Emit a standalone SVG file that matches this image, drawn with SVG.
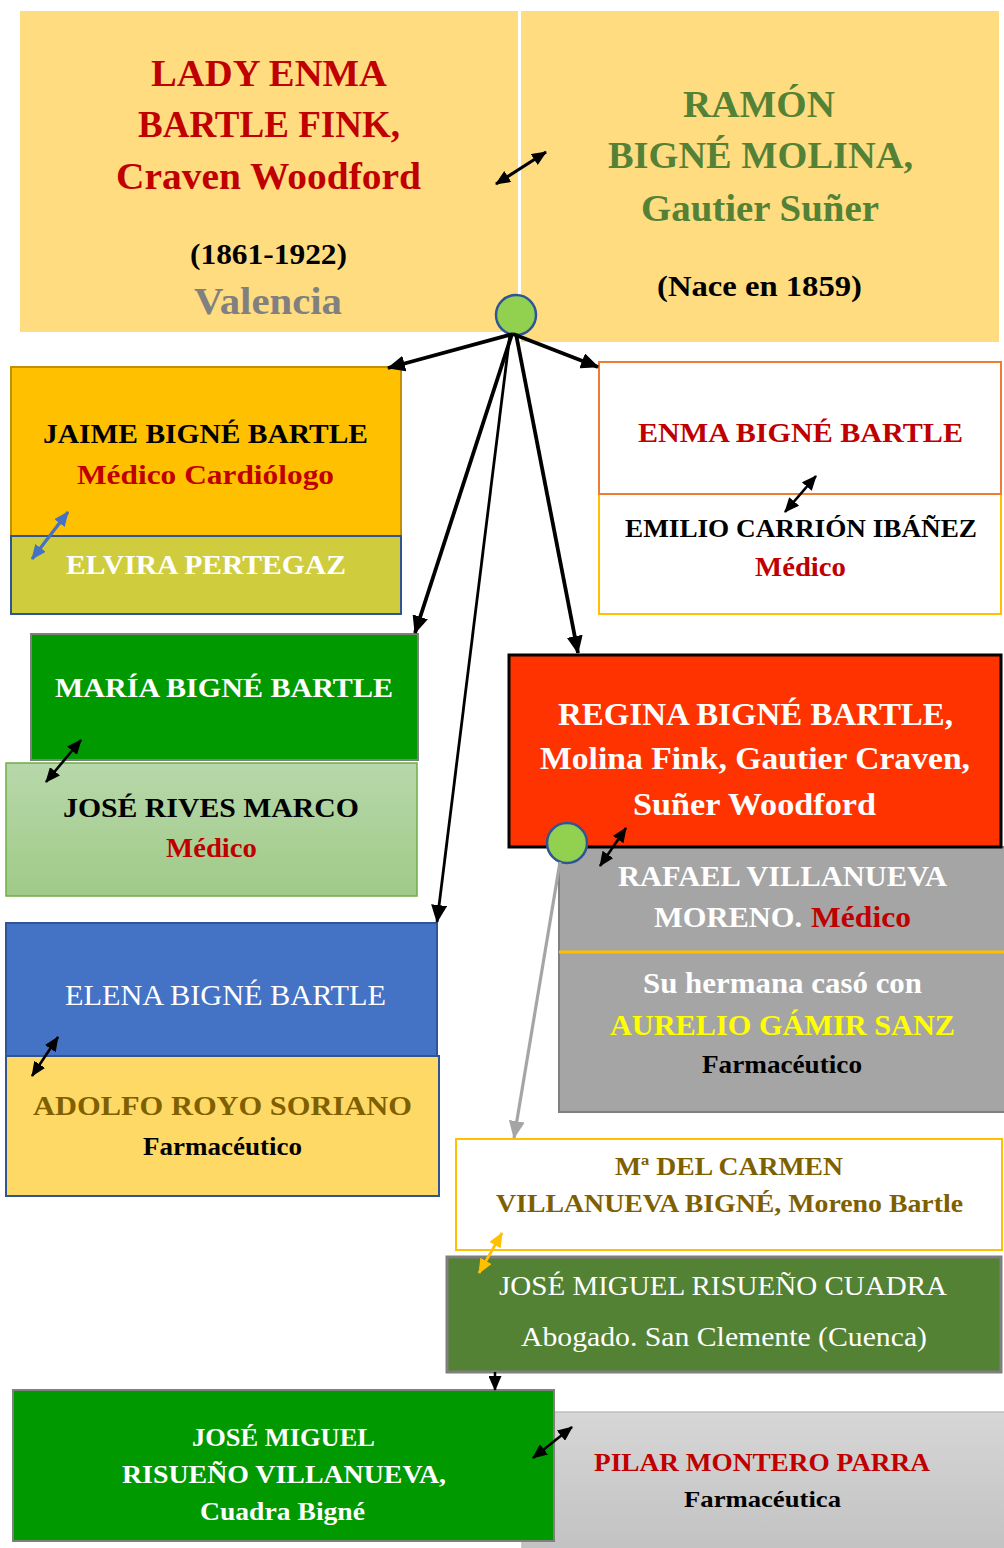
<svg xmlns="http://www.w3.org/2000/svg" width="1004" height="1548" viewBox="0 0 1004 1548">
<defs>
<style>
text{font-family:"Liberation Serif","DejaVu Serif",serif;font-weight:bold;text-anchor:middle}
.n{font-weight:normal}
.st{text-anchor:start}
.red{fill:#C00000}
.w{fill:#FFFFFF}
.k{fill:#000000}
.olive{fill:#7F6000}
.grn{fill:#538135}
.conn{fill:none;stroke:#000;stroke-width:3.8}
.pair{fill:none;stroke:#000;stroke-width:2.6}
</style>
<linearGradient id="gJose" x1="0" y1="0" x2="0" y2="1"><stop offset="0" stop-color="#B7D8AA"/><stop offset="1" stop-color="#A0CA88"/></linearGradient>
<linearGradient id="gPilar" x1="0" y1="0" x2="0" y2="1"><stop offset="0" stop-color="#D6D6D6"/><stop offset="1" stop-color="#C2C2C2"/></linearGradient>
<marker id="ah" markerUnits="userSpaceOnUse" markerWidth="18" markerHeight="16" refX="17" refY="8" orient="auto-start-reverse"><path d="M0,0 L18,8 L0,16 z" fill="#000"/></marker>
<marker id="ahg" markerUnits="userSpaceOnUse" markerWidth="18" markerHeight="16" refX="17" refY="8" orient="auto-start-reverse"><path d="M0,0 L18,8 L0,16 z" fill="#A5A5A5"/></marker>
<marker id="as" markerUnits="userSpaceOnUse" markerWidth="15" markerHeight="13" refX="14" refY="6.5" orient="auto-start-reverse"><path d="M0,0 L15,6.5 L0,13 z" fill="#000"/></marker>
<marker id="asb" markerUnits="userSpaceOnUse" markerWidth="15" markerHeight="13" refX="14" refY="6.5" orient="auto-start-reverse"><path d="M0,0 L15,6.5 L0,13 z" fill="#4472C4"/></marker>
<marker id="asy" markerUnits="userSpaceOnUse" markerWidth="15" markerHeight="13" refX="14" refY="6.5" orient="auto-start-reverse"><path d="M0,0 L15,6.5 L0,13 z" fill="#FFC000"/></marker>
</defs>
<rect x="0" y="0" width="1004" height="1548" fill="#FFFFFF"/>

<g id="lady-enma">
<rect x="20" y="11" width="498" height="321" fill="#FFDC80"/>
<text x="269" y="86" font-size="38" class="red" textLength="236" lengthAdjust="spacingAndGlyphs">LADY ENMA</text>
<text x="269" y="137" font-size="38" class="red" textLength="262" lengthAdjust="spacingAndGlyphs">BARTLE FINK,</text>
<text x="268.5" y="189" font-size="38" class="red" textLength="305" lengthAdjust="spacingAndGlyphs">Craven Woodford</text>
<text x="268.5" y="264" font-size="29" class="k" textLength="157" lengthAdjust="spacingAndGlyphs">(1861-1922)</text>
<text x="268" y="314" font-size="38" fill="#808080" textLength="148" lengthAdjust="spacingAndGlyphs">Valencia</text>
</g>

<g id="ramon">
<rect x="521" y="11" width="478" height="331" fill="#FFDC80"/>
<text x="759" y="117" font-size="38" class="grn" textLength="152" lengthAdjust="spacingAndGlyphs">RAMÓN</text>
<text x="760.5" y="168" font-size="38" class="grn" textLength="305" lengthAdjust="spacingAndGlyphs">BIGNÉ MOLINA,</text>
<text x="760" y="221" font-size="38" class="grn" textLength="238" lengthAdjust="spacingAndGlyphs">Gautier Suñer</text>
<text x="759.5" y="296" font-size="29" class="k" textLength="205" lengthAdjust="spacingAndGlyphs">(Nace en 1859)</text>
</g>

<g id="jaime">
<rect x="11" y="367" width="390" height="169" fill="#FFC000" stroke="#BF9000" stroke-width="2"/>
<text x="205.5" y="443" font-size="27" class="k" textLength="325" lengthAdjust="spacingAndGlyphs">JAIME BIGNÉ BARTLE</text>
<text x="205.5" y="484" font-size="28" class="red" textLength="257" lengthAdjust="spacingAndGlyphs">Médico Cardiólogo</text>
</g>
<g id="elvira">
<rect x="11" y="536" width="390" height="78" fill="#CFCD3D" stroke="#2F5597" stroke-width="2"/>
<text x="206" y="574" font-size="28" class="w" textLength="280" lengthAdjust="spacingAndGlyphs">ELVIRA PERTEGAZ</text>
</g>

<g id="emilio">
<rect x="599" y="494" width="402" height="120" fill="#FFFFFF" stroke="#FFC000" stroke-width="2"/>
<text x="801" y="537" font-size="26" class="k" textLength="352" lengthAdjust="spacingAndGlyphs">EMILIO CARRIÓN IBÁÑEZ</text>
<text x="800.5" y="576" font-size="27" class="red" textLength="91" lengthAdjust="spacingAndGlyphs">Médico</text>
</g>
<g id="enma">
<rect x="599" y="362" width="402" height="132" fill="#FFFFFF" stroke="#ED7D31" stroke-width="2"/>
<text x="800.5" y="442" font-size="28" class="red" textLength="325" lengthAdjust="spacingAndGlyphs">ENMA BIGNÉ BARTLE</text>
</g>

<g id="maria">
<rect x="31" y="634" width="387" height="126" fill="#009900" stroke="#7F7F7F" stroke-width="2"/>
<text x="224" y="697" font-size="28" class="w" textLength="338" lengthAdjust="spacingAndGlyphs">MARÍA BIGNÉ BARTLE</text>
</g>
<g id="jose-rives">
<rect x="6" y="763" width="411" height="133" fill="url(#gJose)" stroke="#70AD47" stroke-width="1.5"/>
<text x="211" y="817" font-size="28" class="k" textLength="296" lengthAdjust="spacingAndGlyphs">JOSÉ RIVES MARCO</text>
<text x="211.5" y="857" font-size="27" class="red" textLength="91" lengthAdjust="spacingAndGlyphs">Médico</text>
</g>

<g id="rafael">
<rect x="559" y="847" width="447" height="265" fill="#A5A5A5" stroke="#7F7F7F" stroke-width="2"/>
<line x1="559" y1="952" x2="1004" y2="952" stroke="#FFC000" stroke-width="3"/>
<text x="782.5" y="886" font-size="29" class="w" textLength="329" lengthAdjust="spacingAndGlyphs">RAFAEL VILLANUEVA</text>
<text x="654" y="927" font-size="29" class="w st" textLength="148" lengthAdjust="spacingAndGlyphs">MORENO.</text>
<text x="811" y="927" font-size="29" class="red st" textLength="100" lengthAdjust="spacingAndGlyphs">Médico</text>
<text x="782.5" y="993" font-size="29" class="w" textLength="279" lengthAdjust="spacingAndGlyphs">Su hermana casó con</text>
<text x="782.5" y="1035" font-size="29" fill="#FFFF00" textLength="345" lengthAdjust="spacingAndGlyphs">AURELIO GÁMIR SANZ</text>
<text x="782" y="1073" font-size="26" class="k" textLength="160" lengthAdjust="spacingAndGlyphs">Farmacéutico</text>
</g>
<g id="regina">
<rect x="509" y="655" width="492" height="192" fill="#FF3300" stroke="#000000" stroke-width="3"/>
<text x="755.5" y="725" font-size="32" class="w" textLength="395" lengthAdjust="spacingAndGlyphs">REGINA BIGNÉ BARTLE,</text>
<text x="755" y="769" font-size="32" class="w" textLength="430" lengthAdjust="spacingAndGlyphs">Molina Fink, Gautier Craven,</text>
<text x="754.5" y="815" font-size="32" class="w" textLength="243" lengthAdjust="spacingAndGlyphs">Suñer Woodford</text>
</g>

<g id="elena">
<rect x="6" y="923" width="431" height="133" fill="#4472C4" stroke="#2F5597" stroke-width="2"/>
<text x="225.5" y="1005" font-size="29" class="w n" textLength="321" lengthAdjust="spacingAndGlyphs">ELENA BIGNÉ BARTLE</text>
</g>
<g id="adolfo">
<rect x="6" y="1056" width="433" height="140" fill="#FFD966" stroke="#2F5597" stroke-width="2"/>
<text x="222.5" y="1115" font-size="28" class="olive" textLength="379" lengthAdjust="spacingAndGlyphs">ADOLFO ROYO SORIANO</text>
<text x="222.5" y="1155" font-size="26" class="k" textLength="159" lengthAdjust="spacingAndGlyphs">Farmacéutico</text>
</g>

<g id="carmen">
<rect x="456" y="1139" width="546" height="111" fill="#FFFFFF" stroke="#FFC000" stroke-width="2"/>
<text x="729" y="1175" font-size="25" class="olive" textLength="228" lengthAdjust="spacingAndGlyphs">Mª DEL CARMEN</text>
<text x="729.5" y="1212" font-size="25" class="olive" textLength="467" lengthAdjust="spacingAndGlyphs">VILLANUEVA BIGNÉ, Moreno Bartle</text>
</g>
<g id="risueno-cuadra">
<rect x="447" y="1257" width="554" height="115" fill="#548235" stroke="#7F7F7F" stroke-width="3"/>
<text x="723" y="1295" font-size="27" class="w n" textLength="448" lengthAdjust="spacingAndGlyphs">JOSÉ MIGUEL RISUEÑO CUADRA</text>
<text x="724" y="1346" font-size="27" class="w n" textLength="406" lengthAdjust="spacingAndGlyphs">Abogado. San Clemente (Cuenca)</text>
</g>

<g id="pilar">
<rect x="522" y="1412" width="484" height="140" fill="url(#gPilar)" stroke="#BFBFBF" stroke-width="1.5"/>
<text x="762" y="1471" font-size="25" class="red" textLength="336" lengthAdjust="spacingAndGlyphs">PILAR MONTERO PARRA</text>
<text x="762.5" y="1507" font-size="24" class="k" textLength="157" lengthAdjust="spacingAndGlyphs">Farmacéutica</text>
</g>
<g id="risueno-villanueva">
<rect x="13" y="1390" width="541" height="151" fill="#009900" stroke="#7F7F7F" stroke-width="2"/>
<text x="283.5" y="1446" font-size="25" class="w" textLength="183" lengthAdjust="spacingAndGlyphs">JOSÉ MIGUEL</text>
<text x="284" y="1483" font-size="25" class="w" textLength="324" lengthAdjust="spacingAndGlyphs">RISUEÑO VILLANUEVA,</text>
<text x="282.5" y="1520" font-size="25" class="w" textLength="165" lengthAdjust="spacingAndGlyphs">Cuadra Bigné</text>
</g>

<g id="union-1">
<circle cx="516" cy="315" r="20" fill="#92D050" stroke="#2F5597" stroke-width="2.5"/>
</g>
<g id="union-2">
<circle cx="567" cy="843" r="20" fill="#92D050" stroke="#2F5597" stroke-width="2.5"/>
</g>

<g id="connectors">
<line class="conn" x1="513" y1="334" x2="388" y2="368" marker-end="url(#ah)"/>
<line class="conn" x1="513" y1="334" x2="598" y2="367" marker-end="url(#ah)"/>
<line class="conn" x1="512" y1="334" x2="415" y2="633" marker-end="url(#ah)"/>
<line class="conn" x1="510" y1="334" x2="437" y2="922" style="stroke-width:2.8" marker-end="url(#ah)"/>
<line class="conn" x1="516" y1="334" x2="578" y2="653" marker-end="url(#ah)"/>
<line class="conn" x1="560" y1="862" x2="514" y2="1138" style="stroke:#A5A5A5;stroke-width:3.2" marker-end="url(#ahg)"/>
<line class="conn" x1="495" y1="1372" x2="495" y2="1390" style="stroke-width:2.5" marker-end="url(#as)"/>
<line class="pair" x1="496" y1="184" x2="546" y2="152" style="stroke-width:3.2" marker-start="url(#as)" marker-end="url(#as)"/>
<line class="pair" x1="32" y1="559" x2="68" y2="512" style="stroke:#4472C4;stroke-width:3.2" marker-start="url(#asb)" marker-end="url(#asb)"/>
<line class="pair" x1="785" y1="512" x2="816" y2="476" marker-start="url(#as)" marker-end="url(#as)"/>
<line class="pair" x1="46" y1="782" x2="81" y2="740" marker-start="url(#as)" marker-end="url(#as)"/>
<line class="pair" x1="600" y1="866" x2="626" y2="828" marker-start="url(#as)" marker-end="url(#as)"/>
<line class="pair" x1="32" y1="1076" x2="58" y2="1037" marker-start="url(#as)" marker-end="url(#as)"/>
<line class="pair" x1="479" y1="1273" x2="502" y2="1233" style="stroke:#FFC000;stroke-width:2.8" marker-start="url(#asy)" marker-end="url(#asy)"/>
<line class="pair" x1="533" y1="1458" x2="572" y2="1427" marker-start="url(#as)" marker-end="url(#as)"/>
</g>
</svg>
